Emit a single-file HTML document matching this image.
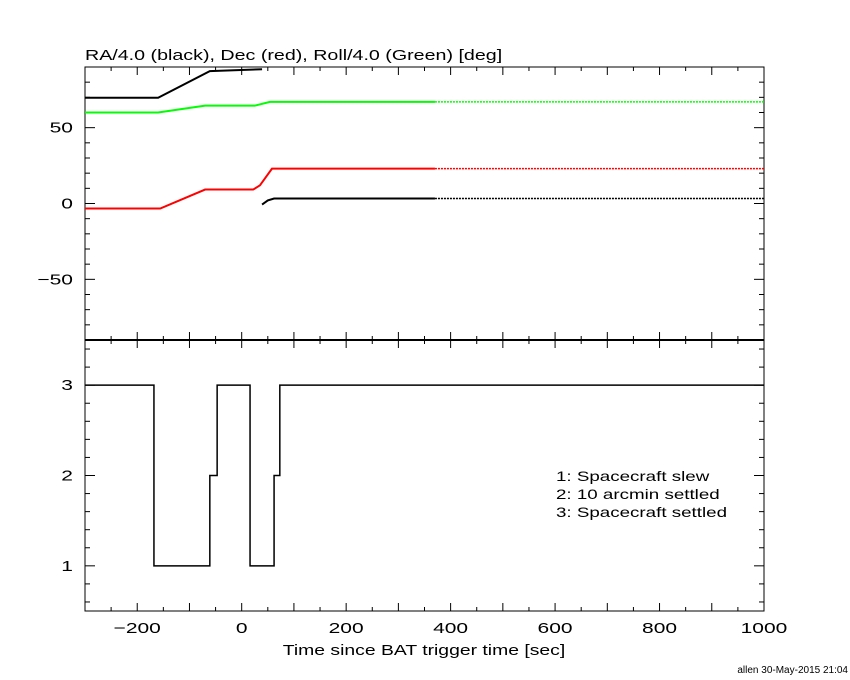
<!DOCTYPE html>
<html><head><meta charset="utf-8"><style>
body{margin:0;background:#fff}
svg{display:block;font-family:"Liberation Sans",sans-serif}
</style></head><body>
<svg width="850" height="680">
<g id="g"></g>
</svg>
<script>
const raA_t=[-300,-160,-61,39];
const raA_v=[69.7,69.7,87.3,88.5];
const raB_t=[39,50,62,370,1000];
const raB_v=[-0.7,2,3.3,3.3,3.3];
const grn_t=[-300,-160,-70,25,54,370,1000];
const grn_v=[60,60,64.5,64.5,67,67,67];
const red_t=[-300,-156,-70,22,35,58,370,1000];
const red_v=[-3.3,-3.3,9.2,9.2,12,23,23,23];
const st_t=[-300,-168,-61,-47,16,62,73,1000];
const st_v=[3,1,2,3,1,2,3,3];
const xTicks=[-200,0,200,400,600,800,1000];
const topTicks=[-50,0,50];
const botTicks=[1,2,3];
const legendLines=["1: Spacecraft slew","2: 10 arcmin settled","3: Spacecraft settled"];

const NS="http://www.w3.org/2000/svg",g=document.getElementById('g');
const L=85,R=764,T1=67,B1=340,T2=340,B2=611;
const X=t=>L+(t+300)/1300*(R-L);
const Y1=v=>T1+(90-v)/180*(B1-T1);
const Y2=v=>T2+(3.5-v)/3*(B2-T2);
function el(tag,a){const e=document.createElementNS(NS,tag);for(const k in a)e.setAttribute(k,a[k]);g.appendChild(e);return e;}
function line(x1,y1,x2,y2,w){const e=el('line',{x1,y1,x2,y2,stroke:'#000','stroke-width':w||1});

}
function txt(x,y,s,anchor,name,size,k){const e=el('text',{x,y,'font-size':size||15,'text-anchor':anchor||'middle',fill:'#000'});e.textContent=s;


if(k){const w=e.getComputedTextLength();e.setAttribute('textLength',w*k);e.setAttribute('lengthAdjust','spacingAndGlyphs');}}
const f1=el('rect',{x:L,y:T1,width:R-L,height:B1-T1,fill:'none',stroke:'#000','stroke-width':1});


const f2=el('rect',{x:L,y:T2,width:R-L,height:B2-T2,fill:'none',stroke:'#000','stroke-width':1});


line(L,340,R,340,2);
for(let t=-300;t<=1000;t+=50){const len=(t%100===0)?8:4;
 line(X(t),T1,X(t),T1+len);line(X(t),B1,X(t),B1-len);line(X(t),T2,X(t),T2+len);line(X(t),B2,X(t),B2-len);}
xTicks.forEach(t=>txt(X(t),633,t<0?'\u2212'+(-t):String(t),'middle','x-tick-label',15,1.4));
for(let v=-90;v<=90;v+=10){const len=(v%50===0)?10:5;line(L,Y1(v),L+len,Y1(v));line(R,Y1(v),R-len,Y1(v));}
topTicks.forEach(v=>txt(L-12,Y1(v)+5,v<0?'\u2212'+(-v):String(v),'end','top-y-tick-label',15,1.4));
for(let i=3;i<=17;i++){const v=i/5;const len=(i%5===0)?10:5;line(L,Y2(v),L+len,Y2(v));line(R,Y2(v),R-len,Y2(v));}
botTicks.forEach(v=>txt(L-12,Y2(v)+5,String(v),'end','bottom-y-tick-label',15,1.4));
function series(ts,vs,col,name){
 const solid=[],dot=[];
 for(let i=0;i<ts.length;i++){if(ts[i]<=370)solid.push(X(ts[i])+','+Y1(vs[i]));}
 for(let i=0;i<ts.length;i++){if(ts[i]>=370)dot.push(X(ts[i])+','+Y1(vs[i]));}
 const a=el('polyline',{points:solid.join(' '),fill:'none',stroke:col,'stroke-width':2});
 
 
 if(dot.length>1){const b=el('polyline',{points:dot.join(' '),fill:'none',stroke:col,'stroke-width':1.5,'stroke-dasharray':'2,1'});
 
 }
}
series(raA_t,raA_v,'#000','ra-line');
series(raB_t,raB_v,'#000','ra-line-wrapped');
series(grn_t,grn_v,'#00ff00','roll-line');
series(red_t,red_v,'#ff0000','dec-line');
let p=[];for(let i=0;i<st_t.length;i++){if(i>0)p.push(X(st_t[i])+','+Y2(st_v[i-1]));p.push(X(st_t[i])+','+Y2(st_v[i]));}
const s=el('polyline',{points:p.join(' '),fill:'none',stroke:'#000','stroke-width':1.5});


txt(L,60,'RA/4.0 (black), Dec (red), Roll/4.0 (Green) [deg]','start','chart-title',15,1.31);
txt(424,655,'Time since BAT trigger time [sec]','middle','x-axis-title',15,1.29);
legendLines.forEach((s,i)=>txt(556,481+i*18,s,'start','legend-entry',14,1.34));
txt(848,673,'allen 30-May-2015 21:04','end','footer-stamp',10);
</script>
</body></html>
